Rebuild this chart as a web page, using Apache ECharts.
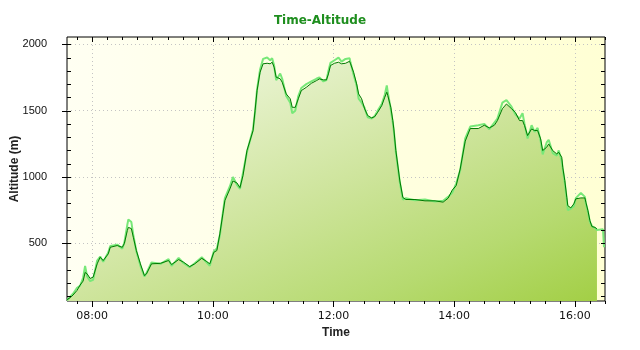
<!DOCTYPE html>
<html><head><meta charset="utf-8">
<script src="https://cdn.jsdelivr.net/npm/echarts@6/dist/echarts.min.js"></script>
<style>html,body{margin:0;padding:0;background:#fff}#c{width:640px;height:350px}</style>
</head><body><div id="c"></div>
<script>
// ---- data ----
const times = ['07:35','07:38','07:41','07:45','07:48','07:51','07:53','07:55','07:58','08:01','08:05','08:08','08:11','08:16','08:18','08:25','08:30','08:32','08:35','08:36','08:39','08:41','08:44','08:48','08:52','08:54','08:59','09:08','09:16','09:19','09:26','09:31','09:37','09:42','09:49','09:54','09:57','10:01','10:04','10:07','10:10','10:12','10:17','10:20','10:24','10:27','10:30','10:34','10:40','10:42','10:44','10:47','10:50','10:54','10:57','10:59','11:01','11:03','11:07','11:09','11:13','11:17','11:19','11:22','11:25','11:28','11:33','11:38','11:43','11:46','11:50','11:53','11:55','11:57','12:01','12:05','12:08','12:12','12:16','12:17','12:20','12:23','12:25','12:28','12:31','12:34','12:38','12:41','12:44','12:48','12:51','12:53','12:54','12:57','12:59','13:00','13:02','13:06','13:09','13:12','13:21','13:31','13:41','13:49','13:54','13:58','14:02','14:06','14:11','14:16','14:24','14:30','14:35','14:40','14:43','14:48','14:52','14:57','15:01','15:05','15:08','15:10','15:13','15:17','15:20','15:23','15:26','15:28','15:32','15:34','15:38','15:42','15:44','15:47','15:48','15:50','15:52','15:53','15:56','15:59','16:01','16:06','16:10','16:11','16:13','16:15','16:17','16:20','16:22'];
const altitudeSmooth = [75,90,110,145,185,215,280,270,235,245,345,395,370,420,470,483,470,498,596,620,611,545,445,345,256,269,345,349,370,340,377,357,324,345,387,362,345,432,445,571,722,822,910,970,955,920,1010,1200,1349,1500,1651,1789,1853,1857,1853,1865,1827,1752,1740,1714,1626,1589,1525,1525,1589,1651,1676,1706,1726,1739,1732,1732,1777,1840,1857,1865,1853,1857,1872,1853,1789,1702,1626,1589,1513,1463,1445,1455,1488,1538,1601,1639,1614,1525,1425,1362,1200,970,845,830,830,820,820,810,840,900,935,1060,1270,1365,1365,1390,1370,1390,1425,1515,1550,1515,1485,1425,1425,1387,1312,1362,1350,1350,1287,1199,1224,1249,1199,1174,1186,1148,1073,973,847,784,767,797,835,842,842,809,747,671,626,620,608];
const altitudeRaw = [70,95,120,165,180,240,330,250,215,225,370,400,360,430,480,490,460,505,640,680,660,560,440,330,250,275,355,345,380,330,390,350,320,350,395,355,330,440,460,560,730,840,930,1000,940,910,1030,1190,1360,1490,1660,1810,1890,1900,1880,1895,1840,1730,1780,1740,1610,1560,1480,1500,1610,1670,1700,1720,1740,1750,1720,1730,1800,1860,1880,1900,1870,1890,1895,1860,1770,1690,1590,1560,1520,1450,1440,1460,1500,1550,1620,1690,1640,1510,1410,1350,1190,960,830,840,825,830,815,820,850,880,950,1050,1290,1380,1390,1400,1360,1410,1440,1560,1580,1530,1470,1440,1480,1400,1290,1390,1340,1370,1270,1170,1260,1280,1180,1160,1200,1120,1060,960,830,750,760,780,840,880,850,800,740,660,630,615,600];
const rawTailTimes = ['16:28','16:29'];
const rawTailAlt = [605,470];
const xTickLabels = ['08:00','10:00','12:00','14:00','16:00'];
const yTickLabels = [500,1000,1500,2000];

function toMin(s){const p=s.split(':');return (+p[0])*60+(+p[1]);}
function fmt(v){const h=Math.floor(v/60),m=Math.round(v-h*60);return (h<10?'0':'')+h+':'+(m<10?'0':'')+m;}

const X_MIN=455, X_MAX=990, Y_MIN=65, Y_MAX=2055;
const hourTicks = xTickLabels.map(toMin);
const quarterTicks=[]; for(let v=465; v<=X_MAX; v+=15) quarterTicks.push(v);
const hundredTicks=[]; for(let v=100; v<=2000; v+=100) hundredTicks.push(v);

const smoothData = times.map((t,i)=>[toMin(t), altitudeSmooth[i]]);
const rawData = times.map((t,i)=>[toMin(t), altitudeRaw[i]]).concat(rawTailTimes.map((t,i)=>[toMin(t), rawTailAlt[i]]));

// tick marks drawn through the axes' scales: [value, kind]
const tickSpecs = [
  {axis:'x', edge:'min', dir: 1, len:6},
  {axis:'x', edge:'min', dir: 1, len:3},
  {axis:'x', edge:'max', dir: 1, len:3},
  {axis:'x', edge:'max', dir: 1, len:5},
  {axis:'y', edge:'min', dir:-1, len:5},
  {axis:'y', edge:'min', dir: 1, len:4},
  {axis:'y', edge:'max', dir:-1, len:4}
];
const tickData = [];
hourTicks.forEach(v=>tickData.push([v,0]));
quarterTicks.forEach(v=>tickData.push([v,1]));
quarterTicks.forEach(v=>tickData.push([v,2]));
hourTicks.forEach(v=>tickData.push([v,3]));
yTickLabels.forEach(v=>tickData.push([v,4]));
hundredTicks.forEach(v=>tickData.push([v,5]));
hundredTicks.forEach(v=>tickData.push([v,6]));

function renderTick(params, api){
  const v = api.value(0), s = tickSpecs[api.value(1)];
  let x1,y1,x2,y2;
  if (s.axis==='x'){
    const p = api.coord([v, s.edge==='min'?Y_MIN:Y_MAX]);
    x1 = x2 = Math.round(p[0])+0.5; y1 = p[1]; y2 = p[1] + s.dir*s.len;
  } else {
    const p = api.coord([s.edge==='min'?X_MIN:X_MAX, v]);
    y1 = y2 = Math.round(p[1])+0.5; x1 = p[0]; x2 = p[0] + s.dir*s.len;
  }
  return {type:'line', shape:{x1,y1,x2,y2}, style:{stroke:'#000', lineWidth:1}};
}

const gridLine={show:true,lineStyle:{color:'#c4c4c4',width:1,type:[1,3]}};

const chart = echarts.init(document.getElementById('c'), null, {renderer:'canvas'});
chart.setOption({
  animation:false,
  backgroundColor:'#ffffff',
  title:{text:'Time-Altitude',left:'center',top:10,textStyle:{color:'#1e8e1e',fontSize:12,fontWeight:'bold',fontFamily:'DejaVu Sans'}},
  grid:{left:67,right:35,top:37,bottom:49,show:true,borderWidth:1,borderColor:'#000',
    containLabel:false, outerBoundsMode:'none',
    backgroundColor:new echarts.graphic.LinearGradient(0,0,1,0,[{offset:0,color:'#fffff2'},{offset:1,color:'#ffffd4'}])},
  xAxis:{type:'value',min:X_MIN,max:X_MAX,position:'bottom',
    axisLine:{show:false,onZero:false},
    axisTick:{show:false,customValues:hourTicks},
    axisLabel:{show:true,customValues:hourTicks,formatter:fmt,fontFamily:'DejaVu Sans',fontSize:11,color:'#111',margin:10},
    splitLine:gridLine,
    name:'Time',nameLocation:'middle',nameGap:26,nameMoveOverlap:false,
    nameTextStyle:{fontFamily:'Liberation Sans',fontWeight:'bold',fontSize:12,color:'#222'}},
  yAxis:{type:'value',min:Y_MIN,max:Y_MAX,position:'left',
    axisLine:{show:false,onZero:false},
    axisTick:{show:false,customValues:yTickLabels},
    axisLabel:{show:true,customValues:yTickLabels,formatter:v=>String(v),fontFamily:'"Liberation Sans Narrow","Liberation Sans"',fontSize:11,color:'#111',margin:20},
    splitLine:gridLine,
    name:'Altitude (m)',nameLocation:'middle',nameGap:46,nameRotate:90,nameMoveOverlap:false,
    nameTextStyle:{fontFamily:'Liberation Sans',fontWeight:'bold',fontSize:12,color:'#222'}},
  series:[
    {type:'line',data:smoothData,showSymbol:false,silent:true,z:1,lineStyle:{width:0,opacity:0},
      areaStyle:{origin:'start',opacity:1,color:new echarts.graphic.LinearGradient(0,0,0.37,1.85,[
        {offset:0,color:'#f8fbee'},{offset:0.45,color:'#cfe59e'},{offset:0.7,color:'#b6da70'},{offset:1,color:'#98c92e'}])}},
    {type:'line',data:rawData,showSymbol:false,silent:true,z:2,lineStyle:{color:'#78e878',width:2}},
    {type:'line',data:smoothData,showSymbol:false,silent:true,z:3,lineStyle:{color:'#007800',width:1}},
    {type:'custom',data:tickData,renderItem:renderTick,silent:true,clip:false,z:10}
  ]
});
</script></body></html>
